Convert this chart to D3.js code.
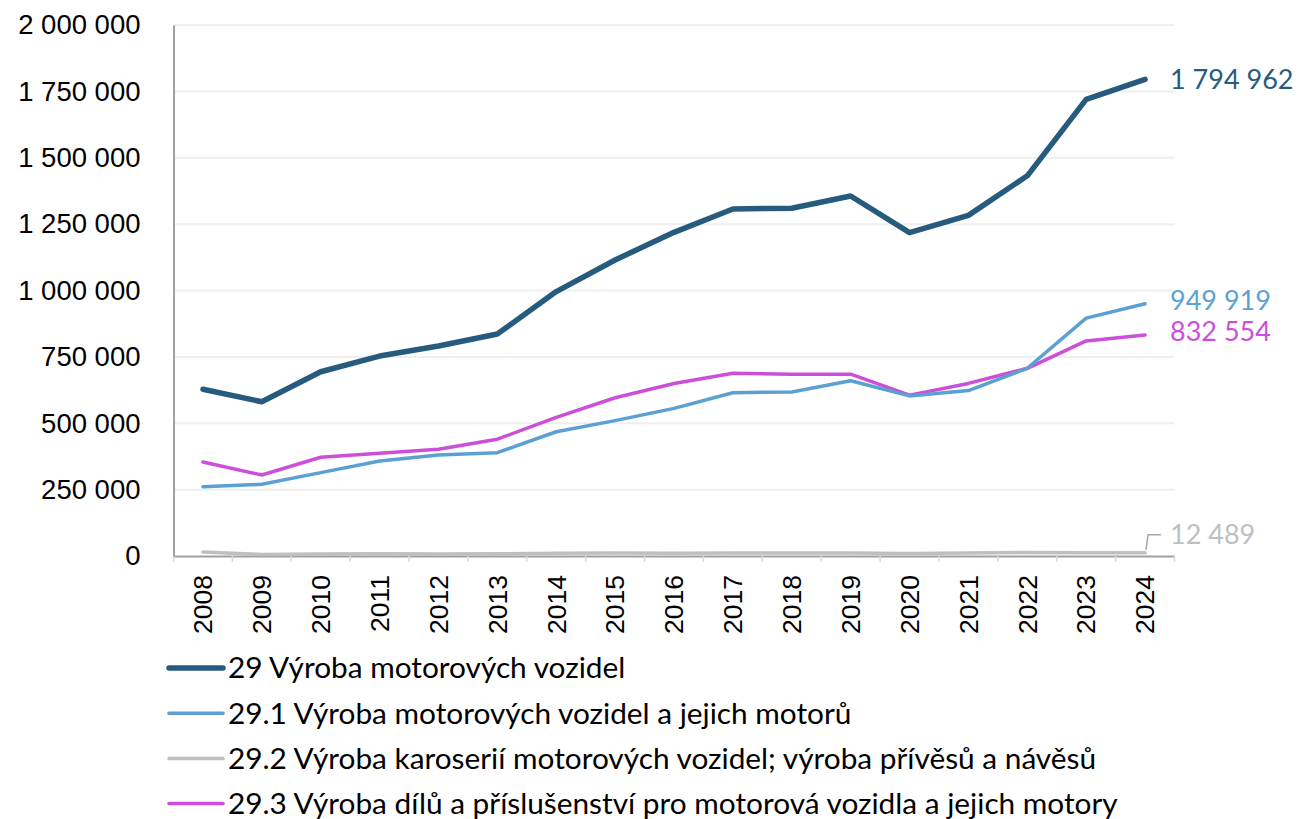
<!DOCTYPE html>
<html lang="cs">
<head>
<meta charset="utf-8">
<script src="https://cdn.jsdelivr.net/npm/d3@7"></script>
<style>
  html, body { margin: 0; padding: 0; background: #ffffff; }
  svg { display: block; }
</style>
</head>
<body>
<svg id="chart" width="1299" height="819"></svg>
<script>
// Years on the category axis
const years = ["2008","2009","2010","2011","2012","2013","2014","2015","2016",
               "2017","2018","2019","2020","2021","2022","2023","2024"];

// CZ-NACE 29 and its groups
const total29 = [628000, 581000, 694000, 753000, 791000, 836000, 996000, 1115000, 1219000,
                 1307000, 1310000, 1356000, 1218000, 1283000, 1432000, 1720000, 1794962];
const group291 = [261000, 270000, 314000, 358000, 380000, 389000, 468000, 510000, 556000,
                  615000, 618000, 660000, 603000, 623000, 707000, 896000, 949919];
const group292 = [15000, 6000, 7500, 8500, 8000, 8500, 10000, 11000, 10500,
                  11000, 11500, 11000, 9500, 11500, 13500, 12500, 12489];
const group293 = [354000, 305000, 372000, 387000, 402000, 440000, 522000, 596000, 650000,
                  688000, 685000, 685000, 606000, 650000, 707000, 810000, 832554];

const seriesNames = [
  "29 Výroba motorových vozidel",
  "29.1 Výroba motorových vozidel a jejich motorů",
  "29.2 Výroba karoserií motorových vozidel; výroba přívěsů a návěsů",
  "29.3 Výroba dílů a příslušenství pro motorová vozidla a jejich motory"
];

const yTicks = [0, 250000, 500000, 750000, 1000000, 1250000, 1500000, 1750000, 2000000];

const series = [
  { name: seriesNames[0], values: total29,  color: "#265b7e", label: "#265b7e", width: 5.5, dy: 0 },
  { name: seriesNames[1], values: group291, color: "#5ba0d2", label: "#5ba3d5", width: 3.5, dy: -3 },
  { name: seriesNames[2], values: group292, color: "#bfbfbf", label: "#bfbfbf", width: 3.5, dy: -18, leader: true },
  { name: seriesNames[3], values: group293, color: "#cc4fd9", label: "#cc4fd9", width: 3.5, dy: -3 }
];

const svg = d3.select("#chart");
const plot = { left: 173.5, right: 1174.5, top: 25, bottom: 556 };

const x = d3.scaleBand().domain(years).range([plot.left, plot.right]);
const y = d3.scaleLinear().domain([0, 2000000]).range([plot.bottom, plot.top]);
const cx = d => x(d) + x.bandwidth() / 2;

const fmt = v => d3.format(",")(v).replace(/,/g, " ");

// Horizontal gridlines
svg.append("g")
  .selectAll("line")
  .data(yTicks.filter(t => t > 0))
  .join("line")
  .attr("x1", plot.left).attr("x2", plot.right)
  .attr("y1", d => y(d)).attr("y2", d => y(d))
  .attr("stroke", "#efefef").attr("stroke-width", 2);

// Y axis
const yAxis = svg.append("g")
  .attr("transform", `translate(${plot.left},0)`)
  .call(d3.axisLeft(y).tickValues(yTicks).tickFormat(fmt).tickSize(0).tickPadding(33));
yAxis.select(".domain").attr("stroke", "#a0a0a0").attr("stroke-width", 2);
yAxis.selectAll("text")
  .attr("font-family", "'Liberation Sans', Arial, sans-serif")
  .attr("font-size", 27.5).attr("fill", "#000");

// X axis with ticks between categories
const xAxis = svg.append("g")
  .attr("transform", `translate(0,${plot.bottom})`)
  .call(d3.axisBottom(x).tickSize(0).tickPadding(0));
xAxis.select(".domain").attr("stroke", "#a0a0a0").attr("stroke-width", 2);
xAxis.selectAll(".tick text")
  .attr("font-family", "'Liberation Sans', Arial, sans-serif")
  .attr("font-size", 26.5).attr("fill", "#000")
  .attr("text-anchor", "end")
  .attr("dy", "0.35em")
  .attr("transform", "translate(0,19) rotate(-90)");
xAxis.append("g")
  .selectAll("line")
  .data(d3.range(years.length + 1))
  .join("line")
  .attr("x1", i => plot.left + i * x.step()).attr("x2", i => plot.left + i * x.step())
  .attr("y1", 0).attr("y2", 6)
  .attr("stroke", "#d9d9d9").attr("stroke-width", 1.5);

// Lines
const line = d3.line().x((d, i) => cx(years[i])).y(d => y(d));
svg.append("g")
  .selectAll("path")
  .data(series.slice().reverse())
  .join("path")
  .attr("d", s => line(s.values))
  .attr("fill", "none")
  .attr("stroke", s => s.color)
  .attr("stroke-width", s => s.width)
  .attr("stroke-linejoin", "round")
  .attr("stroke-linecap", "round");

// End-of-line value labels
const labelFont = "Lato, 'Open Sans', sans-serif";
const last = years[years.length - 1];
const endG = svg.append("g");
series.forEach(s => {
  const v = s.values[s.values.length - 1];
  const ly = y(v) + s.dy;
  if (s.leader) {
    endG.append("path")
      .attr("d", `M${cx(last) + 1},${y(v) - 3} L${cx(last) + 3},${ly} L${cx(last) + 16},${ly}`)
      .attr("fill", "none").attr("stroke", "#a6a6a6").attr("stroke-width", 1.5);
  }
  endG.append("text")
    .attr("x", cx(last) + 25).attr("y", ly)
    .attr("dy", "0.35em")
    .attr("font-family", labelFont).attr("font-size", 27)
    .attr("fill", s.label)
    .text(fmt(v));
});

// Legend
const legend = svg.append("g").attr("transform", "translate(169,668)");
const rows = legend.selectAll("g").data(series).join("g")
  .attr("transform", (d, i) => `translate(0,${i * 45.2})`);
rows.append("line")
  .attr("x1", 0).attr("x2", 54).attr("y1", 0).attr("y2", 0)
  .attr("stroke", d => d.color).attr("stroke-width", d => d.width)
  .attr("stroke-linecap", "round");
rows.append("text")
  .attr("x", 59).attr("dy", "0.35em")
  .attr("font-family", labelFont).attr("font-size", 29.8)
  .attr("fill", "#000")
  .text(d => d.name);
</script>
</body>
</html>
